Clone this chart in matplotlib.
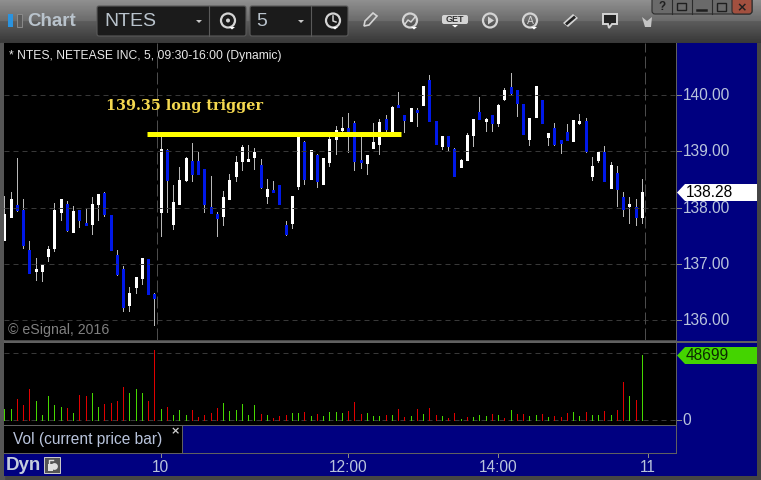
import numpy as np
import matplotlib
matplotlib.use("Agg")
import matplotlib.pyplot as plt
from matplotlib.patches import Rectangle, Polygon, Circle, FancyBboxPatch

# ---------- data ----------
opens = [137.42,137.84,138.05,137.96,137.25,136.88,136.88,137.14,137.28,137.92,138.07,137.57,137.96,137.73,137.71,
         138.07,138.26,137.87,137.16,136.91,136.27,136.59,136.75,137.09,136.47,
         137.92,139.03,137.71,138.07,138.49,138.83,138.83,138.69,138.01,137.89,137.85,
         138.15,138.56,138.83,138.83,138.90,138.76,138.21,138.31,138.40,137.69,137.73,138.39,139.17,138.51,
         138.94,138.42,138.81,139.22,139.38,139.42,139.50,138.85,138.79,139.06,139.13,139.58,139.32,139.82,139.65,
         139.54,139.74,139.82,140.27,139.54,139.10,139.27,139.04,138.72,138.85,139.29,139.70,139.54,139.65,139.50,
         139.93,140.14,140.09,139.84,139.22,139.61,139.91,139.26,139.42,139.20,139.35,139.18,139.50,139.54,138.56,
         138.85,138.99,138.35,138.62,138.19,138.03,138.01,137.84]
highs = [138.20,138.27,138.88,138.15,137.41,137.11,137.00,137.32,138.08,138.15,138.12,138.03,137.96,137.98,138.19,
         138.24,138.28,137.87,137.25,136.96,136.59,136.77,137.11,137.09,136.49,
         139.30,139.04,138.40,138.72,138.90,139.15,138.99,138.69,138.56,137.92,138.30,
         138.60,138.92,139.11,139.11,139.06,138.87,138.51,138.47,138.40,137.76,138.21,139.32,139.18,139.03,
         138.95,138.88,139.29,139.45,139.61,139.68,139.54,139.29,138.94,139.50,139.58,139.65,139.81,140.06,139.65,
         139.77,139.77,140.16,140.36,139.54,139.27,139.27,139.06,138.87,139.33,139.58,139.97,139.59,139.65,139.84,
         140.13,140.39,140.09,139.84,139.59,140.16,139.91,139.33,139.50,139.20,139.49,139.56,139.66,139.59,138.90,
         138.99,139.10,138.81,138.74,138.28,138.19,138.15,138.51]
lows = [137.42,137.84,137.94,137.28,136.84,136.72,136.70,137.05,137.23,137.78,137.59,137.57,137.66,137.69,137.53,
        137.78,137.85,137.25,136.81,136.17,136.17,136.49,136.65,136.47,135.92,
        137.50,137.92,137.62,138.07,138.47,138.47,138.60,137.92,137.91,137.50,137.69,
        138.15,138.47,138.67,138.83,138.69,138.35,138.08,138.28,138.07,137.52,137.64,138.33,138.42,138.51,
        138.37,138.42,138.74,138.95,139.35,138.99,138.67,138.71,138.60,139.06,138.95,139.35,139.32,139.79,139.35,
        139.54,139.45,139.82,139.54,139.13,139.04,139.03,138.56,138.72,138.85,139.10,139.58,139.36,139.36,139.45,
        139.91,140.00,139.63,139.31,139.11,139.61,139.50,139.11,139.11,138.97,139.20,139.18,139.49,138.99,138.49,
        138.81,138.47,138.35,138.03,137.85,137.73,137.69,137.73]
closes = [137.89,138.15,137.96,137.34,136.84,136.91,137.00,137.27,137.96,138.15,137.60,137.94,137.78,137.69,138.07,
          138.24,137.89,137.25,136.82,136.24,136.49,136.77,137.11,136.47,136.40,
          139.04,138.49,138.10,138.49,138.88,138.60,138.60,138.07,137.91,137.82,138.19,
          138.49,138.81,139.08,138.87,138.99,138.37,138.33,138.28,138.07,137.53,138.21,139.32,138.51,139.03,
          138.47,138.88,139.22,139.38,139.42,139.29,138.83,138.81,138.94,139.17,139.52,139.40,139.79,139.79,139.56,
          139.77,139.70,140.16,139.54,139.13,139.27,139.10,138.56,138.85,139.29,139.58,139.58,139.58,139.50,139.82,
          140.09,140.04,139.86,139.31,139.59,140.16,139.50,139.33,139.13,139.15,139.20,139.56,139.54,139.01,138.74,
          138.99,138.47,138.76,138.33,137.98,138.07,137.84,138.28]
volumes = [8449,8449,15904,11431,23359,14413,3976,18140,11431,9940,9194,5467,18886,18140,20377,
           9940,12176,12922,14413,24850,20377,23359,20377,14413,52433,
           8449,9940,3976,7703,3976,7703,2485,3976,5467,9194,12922,
           6958,7703,12176,3976,11431,4721,3976,1740,3230,3976,5467,5467,6212,3230,
           4721,3230,6212,6212,5467,6958,13667,4721,5467,3230,3230,3976,3976,8449,2485,
           3230,8449,4721,9194,3976,3230,1740,5467,994,2485,2485,3976,3230,4721,3976,
           1740,7703,4721,4721,3230,3976,4721,2485,3230,2485,5467,6212,3230,6212,3976,
           3976,6958,3976,7703,28577,18140,15158,48699]
vol_side = "GGRRRGGGGGRGRRGGRRRRGGGRRGRGGGRRRRRGGGGGGRGRRRGGRGRGGGGRRRGGGRGRRGRGRRGRRGRGGGRGRGRRGGRGRRRGGRGGRGRRGRG"
price_ticks = [136, 137, 138, 139, 140]
price_labels = ["136.00", "137.00", "138.00", "139.00", "140.00"]
vol_ticks = [0, 49940]
time_ticks = [25, 55, 79, 103]
time_labels = ["10", "12:00", "14:00", "11"]
session_marks = [24.5, 102.5]
trigger_price = 139.30
trigger_span = [22.75, 63.5]
last_price = 138.28
last_volume = 48699
toolbar_symbol = "NTES"
toolbar_interval = "5"

W, H = 761, 480
BG_NAVY = "#000080"
FG = "#b9c4dc"
SANS = "Liberation Sans"
XLIM = (-0.05, 107.47)

fig = plt.figure(figsize=(W / 100, H / 100), dpi=100, facecolor="#454545")

def px_axes(x0, y0, x1, y1, z=1):
    return fig.add_axes([x0 / W, 1 - y1 / H, (x1 - x0) / W, (y1 - y0) / H], zorder=z)

# ---------- background / chrome ----------
bg = px_axes(0, 0, W, H, 0)
bg.set_xlim(0, W); bg.set_ylim(H, 0); bg.axis("off")
grad = np.concatenate([np.linspace(0.56, 0.42, 21), np.linspace(0.36, 0.22, 22)])[:, None]
bg.imshow(grad, extent=[0, W, 43, 0], cmap="gray", vmin=0, vmax=1, aspect="auto", zorder=1)
bg.set_xlim(0, W); bg.set_ylim(H, 0)
bg.add_patch(Rectangle((0, 43), 4, 437, color="#555555", zorder=2))
bg.add_patch(Rectangle((677, 43), 80, 433, color=BG_NAVY, lw=0, zorder=2))
bg.add_patch(Rectangle((4, 454), 673, 22, color=BG_NAVY, lw=0, zorder=2))
bg.add_patch(Rectangle((183, 426), 494, 27, color=BG_NAVY, lw=0, zorder=2))
bg.add_patch(Rectangle((4, 426), 179, 27, color="black", lw=0, zorder=2))
bg.add_patch(Rectangle((4, 341), 753, 2, color="#606060", lw=0, zorder=6))
bg.add_patch(Rectangle((676, 43), 1, 411, color="#606060", lw=0, zorder=6))
bg.add_patch(Rectangle((4, 425), 673, 1, color="#606060", lw=0, zorder=6))
bg.add_patch(Rectangle((4, 453), 673, 1, color="#606060", lw=0, zorder=6))
bg.add_patch(Rectangle((182, 426), 1, 27, color="#606060", lw=0, zorder=6))

# ---------- price panel ----------
ax = px_axes(4, 43, 676, 340, 2)
ax.set_facecolor("black")
ax.set_xlim(*XLIM)
ax.set_ylim(135.65, 140.925)
for s in ax.spines.values():
    s.set_visible(False)
ax.set_xticks([]); ax.set_yticks([])
x = np.arange(len(closes))
o, h, l, c = map(np.array, (opens, highs, lows, closes))
up = c >= o
ax.vlines(x, l, h, colors="#b8b8b8", lw=0.72, antialiased=False, zorder=2)
ax.vlines(x[up], o[up], c[up], colors="white", lw=2.16, antialiased=False, capstyle="butt", zorder=3)
ax.vlines(x[~up], c[~up], o[~up], colors="#0018e8", lw=2.16, antialiased=False, capstyle="butt", zorder=3)
for p in price_ticks:
    ax.axhline(p, color="#383838", lw=0.72, ls=(0, (5, 4)), zorder=4)
for m in session_marks:
    ax.axvline(m, color="#4c4c4c", lw=0.72, ls=(0, (12, 4)), zorder=4)
ax.plot(trigger_span, [trigger_price] * 2, color="#ffff00", lw=3.6, solid_capstyle="butt", zorder=5)
ax.text(16.2, 139.81, "139.35 long trigger", color="#f4d850", fontsize=10.4, family="DejaVu Serif",
        fontweight="bold", va="center", ha="left", zorder=6)
ax.text(0.7, 140.69, "* NTES, NETEASE INC, 5, 09:30-16:00 (Dynamic)", color="#e8e8e8", fontsize=8.7,
        family=SANS, va="center", ha="left", zorder=6)
ax.text(0.6, 135.82, "\u00a9 eSignal, 2016", color="#808080", fontsize=10.2, family=SANS,
        va="center", ha="left", zorder=6)

# ---------- volume panel ----------
av = px_axes(4, 343, 676, 425, 2)
av.set_facecolor("black")
av.set_xlim(*XLIM)
av.set_ylim(-3503, 57617)
for s in av.spines.values():
    s.set_visible(False)
av.set_xticks([]); av.set_yticks([])
vcol = ["#46d800" if ch == "G" else "#e00000" for ch in vol_side]
av.vlines(x, 0, volumes, colors=vcol, lw=0.72, antialiased=False, zorder=2)
for v in vol_ticks:
    av.axhline(v, color="#383838", lw=0.72, ls=(0, (5, 4)), zorder=1)

# ---------- overlay in pixel space ----------
ov = px_axes(0, 0, W, H, 5)
ov.set_xlim(0, W); ov.set_ylim(H, 0); ov.axis("off"); ov.patch.set_alpha(0)

def py(p):
    return 320.3 - (p - 136) * 56.3

for p, t in zip(price_ticks, price_labels):
    y = py(p)
    ov.plot([677, 681], [y, y], color="#8a8a8a", lw=0.72)
    ov.text(682.5, y + 0.5, t, color=FG, fontsize=11.2, family=SANS, va="center", ha="left")
ov.plot([677, 681], [420.3, 420.3], color="#8a8a8a", lw=0.72)
ov.text(682, 420.5, "0", color=FG, fontsize=11.2, family=SANS, va="center", ha="left")

ov.add_patch(Polygon([(677, 192.5), (685, 184), (757, 184), (757, 201), (685, 201)], color="white", lw=0))
ov.text(686, 192.8, f"{last_price:.2f}", color="black", fontsize=11.2, family=SANS, va="center", ha="left")
ov.add_patch(Polygon([(677, 355.5), (685, 347), (757, 347), (757, 364), (685, 364)], color="#44d400", lw=0))
ov.text(685.5, 355.8, f"{last_volume}", color="#0c2a00", fontsize=11.2, family=SANS, va="center", ha="left")

for i, t in zip(time_ticks, time_labels):
    xp = 4.3 + 6.25 * i
    ov.plot([xp, xp], [454, 457], color="#8a8a8a", lw=0.72)
    ov.text(xp, 467, t, color=FG, fontsize=11.2, family=SANS, va="center", ha="center")

ov.text(13, 439.5, "Vol (current price bar)", color=FG, fontsize=11.2, family=SANS, va="center", ha="left")
ov.text(175, 431, "\u00d7", color="#d0d0d0", fontsize=8, family="DejaVu Sans", fontweight="bold", va="center", ha="center")
ov.text(6, 465.5, "Dyn", color="#c4ccdc", fontsize=13.5, family=SANS, fontweight="bold", va="center", ha="left")
ov.add_patch(Rectangle((44, 457), 16, 16, facecolor="#555555", edgecolor="#c8c8c8", lw=0.72))
ov.add_patch(Circle((54.5, 466.5), 3.4, facecolor="#e0e0e0", edgecolor="none"))
ov.add_patch(Rectangle((47.5, 464), 5, 6.5, facecolor="#e0e0e0", edgecolor="none"))
ov.plot([49, 49, 52.5], [464, 460, 460], color="#e0e0e0", lw=1)

# toolbar
ov.add_patch(Rectangle((8, 14), 5, 13, color="#2a93df", lw=0))
ov.add_patch(Rectangle((17, 14), 5, 13, facecolor="#5a5a5a", edgecolor="#8a8a8a", lw=0.7))
ov.text(27.5, 21, "Chart", color="#b9c3cc", fontsize=13.5, family=SANS, fontweight="bold", va="center", ha="left")
for bx, bw, sep in [(97, 149, 209), (250, 98, 311)]:
    ov.add_patch(FancyBboxPatch((bx, 6), bw, 30, boxstyle="round,pad=0,rounding_size=2",
                                facecolor="#1b1b1b", edgecolor="#5a5a5a", lw=0.8))
    ov.plot([sep, sep], [6, 36], color="#5a5a5a", lw=0.8)
    ov.add_patch(Polygon([(sep - 13, 20), (sep - 7, 20), (sep - 10, 23)], color="#c8c8c8", lw=0))
ov.text(104, 21.5, toolbar_symbol, color="#b9c3cc", fontsize=14, family=SANS, va="center", ha="left")
ov.text(256, 21.5, toolbar_interval, color="#b9c3cc", fontsize=14, family=SANS, va="center", ha="left")

def ring(cx, cy=20.5, r=7, lw=1.6):
    ov.add_patch(Circle((cx, cy), r, facecolor="none", edgecolor="#d4d4d4", lw=lw))

def caret(cx, cy=27):
    ov.add_patch(Polygon([(cx - 3, cy), (cx + 3, cy), (cx, cy + 2.5)], color="white", lw=0))

ring(228); ov.add_patch(Circle((228, 20.5), 2, color="#d4d4d4", lw=0)); caret(232)
ring(333); ov.plot([333, 333, 336], [16, 21, 22], color="#d4d4d4", lw=1.1); caret(335)
ov.add_patch(Polygon([(364, 26), (365, 21), (373, 13), (377, 16), (369, 25)], facecolor="none", edgecolor="#d4d4d4", lw=1.2))
ring(410); ov.plot([405, 408, 411, 415], [24, 20, 22, 17], color="#d4d4d4", lw=1.1); caret(414)
ov.add_patch(FancyBboxPatch((442, 15), 26, 9, boxstyle="round,pad=0,rounding_size=2", color="#d4d4d4", lw=0))
ov.text(455, 19.7, "GET", color="#333333", fontsize=6.5, family=SANS, fontweight="bold", va="center", ha="center")
caret(455, 25)
ring(490); ov.add_patch(Polygon([(488, 16.5), (488, 24.5), (494, 20.5)], color="#d4d4d4", lw=0))
ring(530); ov.text(530, 20.5, "A", color="#d4d4d4", fontsize=7.5, family=SANS, va="center", ha="center"); caret(534)
ov.add_patch(Polygon([(563, 23), (573, 14), (578, 18), (568, 27)], color="#d4d4d4", lw=0))
ov.plot([567, 574], [23.5, 17.5], color="#222222", lw=2)
ov.add_patch(Polygon([(603, 14), (617, 14), (617, 24), (612, 24), (609, 28), (608, 24), (603, 24)],
                     facecolor="#222222", edgecolor="#d4d4d4", lw=1.4))
ov.add_patch(Polygon([(642, 17), (647, 21), (652, 17), (651, 27), (645, 27)], color="#c4c4c4", lw=0))

# window buttons
ov.add_patch(FancyBboxPatch((652, -3), 100, 17, boxstyle="round,pad=0,rounding_size=3",
                            facecolor="#6a6a6a", edgecolor="#2c2c2c", lw=0.8))
ov.add_patch(FancyBboxPatch((732, -3), 20, 17, boxstyle="round,pad=0,rounding_size=3",
                            facecolor="#a2503f", edgecolor="#2c2c2c", lw=0.8))
for bxp in (672, 692, 712):
    ov.plot([bxp, bxp], [0, 14], color="#2c2c2c", lw=0.8)
ov.text(662, 7.5, "?", color="#1f1f1f", fontsize=8.5, family=SANS, fontweight="bold", va="center", ha="center")
ov.add_patch(Rectangle((677, 3), 9, 7, facecolor="none", edgecolor="#1f1f1f", lw=1))
ov.plot([697, 706], [10, 10], color="#1f1f1f", lw=1.8)
ov.add_patch(Rectangle((717, 3), 9, 8, facecolor="none", edgecolor="#1f1f1f", lw=1))
ov.text(742, 7.5, "\u00d7", color="#1f1f1f", fontsize=9, family="DejaVu Sans", fontweight="bold", va="center", ha="center")

fig.savefig("out.png", dpi=100, facecolor=fig.get_facecolor())
